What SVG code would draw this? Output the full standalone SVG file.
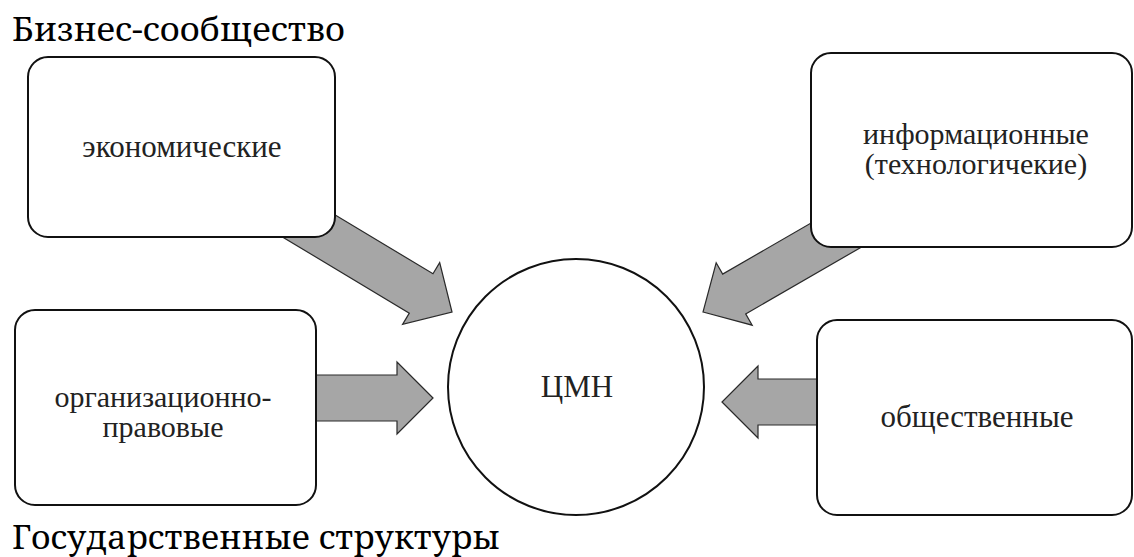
<svg xmlns="http://www.w3.org/2000/svg" xmlns:xlink="http://www.w3.org/1999/xlink" width="1134" height="557" viewBox="0 0 1134 557">
<style>
.box{fill:#fff;stroke:#111;stroke-width:2}
.lbl{font-family:"Liberation Serif","Times New Roman",serif;font-size:30px;fill:#222;text-anchor:middle}
.big{font-size:31px}
.ttl{font-family:"Noto Serif","DejaVu Serif",serif;font-size:32px;fill:#000}
.arr{fill:#a6a6a6;stroke:#2a2a2a;stroke-width:1.2;stroke-linejoin:miter}
</style>
<defs>
<polygon id="arrow" points="0,0 -36,-36 -36,-23 -200,-23 -200,23 -36,23 -36,36"/>
</defs>
<g id="connectors">
<use xlink:href="#arrow" class="arr" transform="translate(452,312) rotate(31)"/>
<use xlink:href="#arrow" class="arr" transform="translate(703,312) rotate(150)"/>
<use xlink:href="#arrow" class="arr" transform="translate(433,398)"/>
<use xlink:href="#arrow" class="arr" transform="translate(722,402) rotate(180)"/>
</g>
<g id="title-business"><text class="ttl" x="12" y="41" textLength="333" lengthAdjust="spacingAndGlyphs">Бизнес-сообщество</text></g>
<g id="title-state"><text class="ttl" x="12" y="549" textLength="488" lengthAdjust="spacingAndGlyphs">Государственные структуры</text></g>
<g id="node-economic">
<rect class="box" x="28" y="57" width="307" height="180" rx="20"/>
<text class="lbl big" x="182" y="157">экономические</text>
</g>
<g id="node-info">
<rect class="box" x="811" y="53" width="321" height="194" rx="20"/>
<text class="lbl" x="976" y="144">информационные</text>
<text class="lbl" x="976" y="174">(технологичекие)</text>
</g>
<g id="node-legal">
<rect class="box" x="15" y="310" width="301" height="195" rx="20"/>
<text class="lbl" x="163" y="407">организационно-</text>
<text class="lbl" x="163" y="437">правовые</text>
</g>
<g id="node-social">
<rect class="box" x="817" y="320" width="315" height="195" rx="20"/>
<text class="lbl big" x="977" y="427">общественные</text>
</g>
<g id="node-center">
<circle class="box" cx="576" cy="387" r="128"/>
<text class="lbl big" x="577" y="397">ЦМН</text>
</g>
</svg>
